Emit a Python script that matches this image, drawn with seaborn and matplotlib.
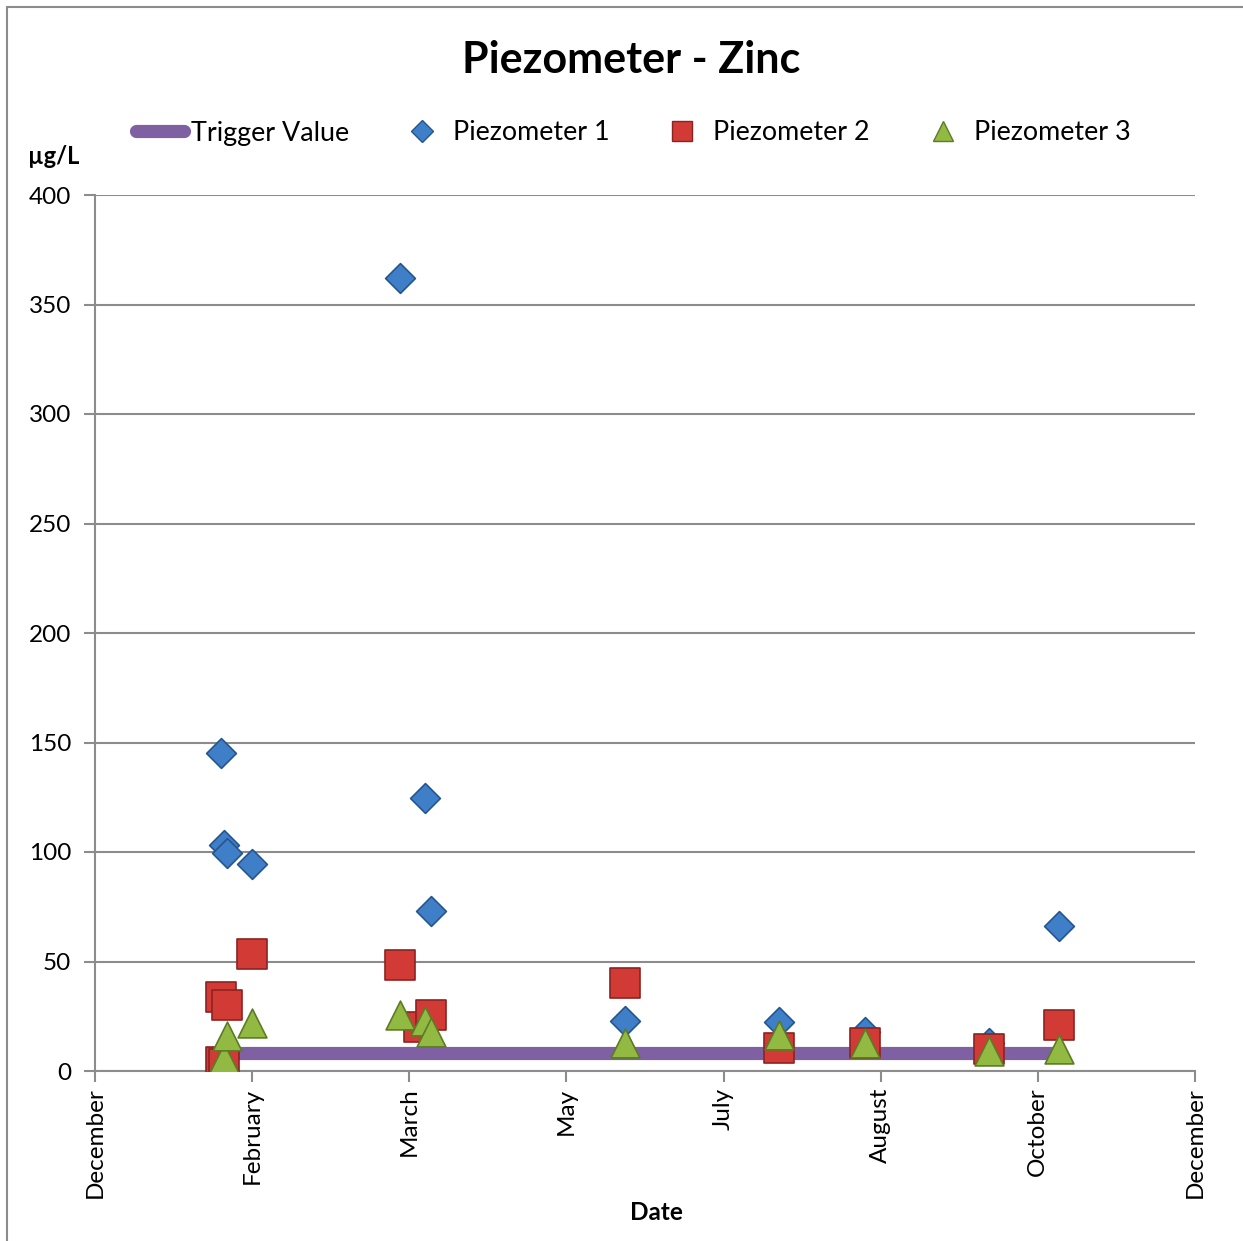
import datetime as dt

import matplotlib.pyplot as plt
import matplotlib.dates as mdates
import matplotlib.ticker as mticker
from matplotlib.lines import Line2D
from matplotlib.patches import Rectangle
import numpy as np
import pandas as pd
import seaborn as sns

# Sampling data (dates as yyyy-mm-dd, zinc in ug/L)
p1_dates = ["2010-01-29", "2010-01-30", "2010-01-31", "2010-02-08", "2010-03-28", "2010-04-05",
            "2010-04-07", "2010-06-09", "2010-07-29", "2010-08-26", "2010-10-05", "2010-10-28"]
p1_zinc = [145, 103, 99.5, 94.5, 362, 124.7, 73, 22.8, 22.4, 17.8, 12.8, 66]

p2_dates = ["2010-01-29", "2010-01-31", "2010-01-29", "2010-01-30", "2010-02-08", "2010-03-28",
            "2010-04-03", "2010-04-07", "2010-06-09", "2010-07-29", "2010-08-26", "2010-10-05",
            "2010-10-28"]
p2_zinc = [34, 30, 4, 3, 53.4, 48.4, 20, 25.6, 40, 10.5, 12.8, 10, 21]

p3_dates = ["2010-01-29", "2010-01-30", "2010-01-30", "2010-01-31", "2010-02-08", "2010-03-28",
            "2010-04-05", "2010-04-07", "2010-06-09", "2010-07-29", "2010-08-26", "2010-10-05",
            "2010-10-28"]
p3_zinc = [3, 1, 6, 16, 22, 25.6, 23, 18, 13, 16.5, 12.8, 9, 10]

trigger_dates = ["2010-01-29", "2010-10-28"]
trigger_zinc = [8, 8]

axis_start = "2009-12-19"
tick_step_days = 51
n_ticks = 8

sns.set_style("white")
plt.rcParams["font.family"] = ["Lato", "DejaVu Sans"]
plt.rcParams["text.color"] = "black"
plt.rcParams["xtick.labelcolor"] = "black"
plt.rcParams["ytick.labelcolor"] = "black"

W, H = 1243, 1241
fig = plt.figure(figsize=(W / 100, H / 100), dpi=100)
ax = fig.add_axes([95 / W, 1 - 1071 / H, 1100 / W, 876 / H])

# grey outline of the chart area (right/bottom edges fall outside the image)
fig.patches.append(Rectangle((7 / W, -0.1), 1.2, 1 - 7 / H + 0.1, transform=fig.transFigure,
                             fill=False, edgecolor="#8c8c8c", linewidth=1.5))

start = pd.Timestamp(axis_start)
ticks = [start + pd.Timedelta(days=tick_step_days * k) for k in range(n_ticks)]

trig = pd.DataFrame({"date": pd.to_datetime(trigger_dates), "zinc": trigger_zinc})
sns.lineplot(data=trig, x="date", y="zinc", ax=ax, color="#7e60a3", linewidth=9.5,
             solid_capstyle="butt", zorder=2)

series = [
    (p1_dates, p1_zinc, "D", "#3f7fc8", "#25558f", 230),
    (p2_dates, p2_zinc, "s", "#d23a35", "#8c2321", 470),
    (p3_dates, p3_zinc, "^", "#92ba43", "#5d7a25", 430),
]
for i, (d, z, mk, fc, ec, size) in enumerate(series):
    df = pd.DataFrame({"date": pd.to_datetime(d), "zinc": z})
    sns.scatterplot(data=df, x="date", y="zinc", ax=ax, marker=mk, s=size, color=fc,
                    edgecolor=ec, linewidth=1.2, zorder=3 + i)

ax.set_xlim(ticks[0], ticks[-1])
ax.set_ylim(0, 400)
ax.xaxis.set_major_locator(mticker.FixedLocator(mdates.date2num(ticks)))
ax.xaxis.set_major_formatter(mdates.DateFormatter("%B"))
ax.yaxis.set_major_locator(mticker.MultipleLocator(50))
ax.grid(axis="y", color="#8c8c8c", linewidth=1.5)
ax.set_axisbelow(True)
for side in ["top", "right"]:
    ax.spines[side].set_visible(False)
for side in ["left", "bottom"]:
    ax.spines[side].set_color("#8c8c8c")
    ax.spines[side].set_linewidth(1.5)
ax.tick_params(axis="both", length=8, width=1.5, color="#8c8c8c", labelsize=17.5, direction="out",
               bottom=True, left=True)
ax.tick_params(axis="x", rotation=90, pad=4)
ax.tick_params(axis="y", pad=9)
ax.set_xlabel("")
ax.set_ylabel("")

fig.text(656 / W, 1 - 1213 / H, "Date", ha="center", va="center", fontsize=17.5, fontweight="bold")
fig.text(28 / W, 1 - 157 / H, "µg/L", ha="left", va="center", fontsize=17, fontweight="bold")
fig.text(631 / W, 1 - 60 / H, "Piezometer - Zinc", ha="center", va="center", fontsize=31,
         fontweight="bold")

handles = [
    Line2D([], [], color="#7e60a3", linewidth=9.5, solid_capstyle="round"),
    Line2D([], [], linestyle="none", marker="D", markersize=11, color="#3f7fc8",
           markeredgecolor="#25558f"),
    Line2D([], [], linestyle="none", marker="s", markersize=15, color="#d23a35",
           markeredgecolor="#8c2321"),
    Line2D([], [], linestyle="none", marker="^", markersize=15, color="#92ba43",
           markeredgecolor="#5d7a25"),
]
labels = ["Trigger Value", "Piezometer 1", "Piezometer 2", "Piezometer 3"]
fig.legend(handles, labels, loc="center", bbox_to_anchor=(633 / W, 1 - 133 / H), ncol=4,
           frameon=False, fontsize=19.4, handlelength=1.8, handletextpad=0.25,
           columnspacing=1.8)

fig.savefig("out.png", dpi=100)
